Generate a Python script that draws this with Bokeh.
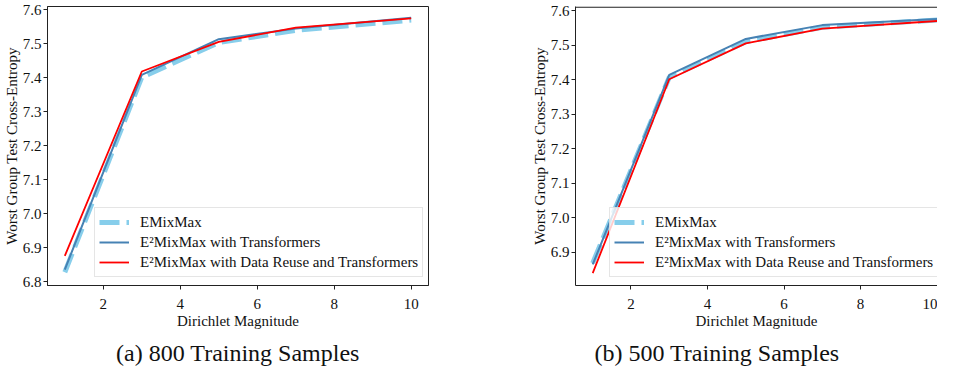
from bokeh.plotting import figure
from bokeh.layouts import row
from bokeh.models import FixedTicker, Range1d, Title, Span, NumeralTickFormatter
from bokeh.embed import file_html
from bokeh.resources import INLINE

# ---- data ----
magnitudes = [1, 3, 5, 7, 10]

emix_800 = [6.828, 7.401, 7.503, 7.539, 7.569]
e2t_800 = [6.836, 7.408, 7.513, 7.544, 7.576]
e2dr_800 = [6.876, 7.418, 7.505, 7.547, 7.574]

emix_500 = [6.868, 7.407, 7.510, 7.552, 7.573]
e2t_500 = [6.864, 7.414, 7.518, 7.558, 7.576]
e2dr_500 = [6.839, 7.401, 7.505, 7.548, 7.570]

series_names = ["EMixMax", "E²MixMax with Transformers",
                "E²MixMax with Data Reuse and Transformers"]
captions = ["(a) 800 Training Samples", "(b) 500 Training Samples"]
x_ticks = [2, 4, 6, 8, 10]
y_ticks = [6.8, 6.9, 7.0, 7.1, 7.2, 7.3, 7.4, 7.5, 7.6]
x_label = "Dirichlet Magnitude"
y_label = "Worst Group Test Cross-Entropy"

FONT = "Liberation Serif"
H = 372


def make(width, border_left, border_right, xr, yr, data, caption, cap_align, cap_offset,
         legend_xy, outline):
    p = figure(width=width, height=H, output_backend="svg", toolbar_location=None,
               x_range=Range1d(*xr), y_range=Range1d(*yr),
               min_border_left=border_left, min_border_right=border_right,
               min_border_top=6, min_border_bottom=60)
    p.xgrid.visible = False
    p.ygrid.visible = False
    p.background_fill_color = "white"
    p.border_fill_color = "white"
    if outline:
        p.outline_line_color = "#222222"
        p.outline_line_width = 1
    else:
        p.outline_line_color = None
        p.add_layout(Span(location=yr[1] - 0.002, dimension="width",
                          line_color="#222222", line_width=1.2))

    emix, e2t, e2dr = data
    p.line(magnitudes, emix, line_color="#87CEEB", line_width=5, line_dash="20 7",
           legend_label=series_names[0])
    p.line(magnitudes, e2t, line_color="#4682B4", line_width=2,
           legend_label=series_names[1])
    p.line(magnitudes, e2dr, line_color="#FF0000", line_width=1.8,
           legend_label=series_names[2])

    for ax in (p.xaxis[0], p.yaxis[0]):
        ax.axis_line_color = "#222222"
        ax.major_tick_line_color = "#222222"
        ax.major_tick_out = 4
        ax.major_tick_in = 0
        ax.minor_tick_line_color = None
        ax.major_label_text_font = FONT
        ax.major_label_text_font_size = "15px"
        ax.major_label_text_color = "#111111"
        ax.axis_label_text_font = FONT
        ax.axis_label_text_font_size = "15px"
        ax.axis_label_text_font_style = "normal"
        ax.axis_label_text_color = "#111111"
    p.xaxis.ticker = FixedTicker(ticks=x_ticks)
    p.yaxis.ticker = FixedTicker(ticks=y_ticks)
    p.yaxis.formatter = NumeralTickFormatter(format="0.0")
    p.xaxis.axis_label = x_label
    p.yaxis.axis_label = y_label
    p.xaxis.major_label_standoff = 9
    p.xaxis.axis_label_standoff = 1
    p.yaxis.major_label_standoff = 2
    p.yaxis.axis_label_standoff = 0

    lg = p.legend[0]
    lg.location = legend_xy
    lg.label_text_font = FONT
    lg.label_text_font_size = "15px"
    lg.label_text_color = "#111111"
    lg.glyph_width = 30
    lg.glyph_height = 20
    lg.label_height = 20
    lg.label_standoff = 11
    lg.padding = 4
    lg.spacing = 0
    lg.margin = 0
    lg.border_line_color = "#cccccc"
    lg.border_line_width = 1
    lg.background_fill_alpha = 0.8

    p.add_layout(Title(text=caption, text_font=FONT, text_font_size="24px",
                       text_font_style="normal", text_color="#111111",
                       align=cap_align, offset=cap_offset, standoff=13), "below")
    return p


p1 = make(468, 47, 40, (0.55, 10.45), (6.789, 7.609),
          (emix_800, e2t_800, e2dr_800), captions[0], "center", 0, (47, 8), True)
p2 = make(469, 107, 0, (0.55, 10.01), (6.803, 7.612),
          (emix_500, e2t_500, e2dr_500), captions[1], "left", 19, (34, 8), False)

layout = row(p1, p2)
open("out.html", "w").write(file_html(layout, INLINE))
